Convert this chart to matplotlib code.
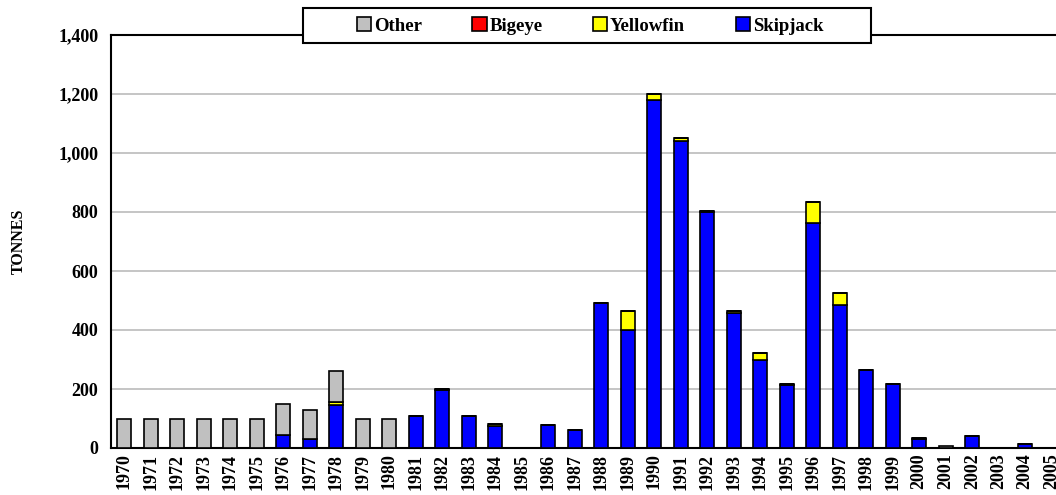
import matplotlib
matplotlib.use("Agg")
from matplotlib import pyplot as plt
from matplotlib.ticker import FuncFormatter
from matplotlib.patches import Rectangle
import numpy as np

plt.rcParams['font.family'] = ['Liberation Serif', 'DejaVu Serif']
plt.rcParams['font.weight'] = 'bold'

years = [str(y) for y in range(1970, 2006)]

skipjack = [0, 0, 0, 0, 0, 0, 45, 30, 145, 0, 0, 107, 195, 107, 75, 0, 77, 62, 490,
            400, 1178, 1040, 800, 458, 297, 213, 763, 485, 265, 218, 30, 0, 40, 0, 15, 0]
yellowfin = [0, 0, 0, 0, 0, 0, 0, 0, 12, 0, 0, 0, 6, 0, 6, 0, 0, 0, 0,
             65, 22, 12, 5, 6, 25, 5, 72, 42, 0, 0, 5, 0, 0, 0, 0, 0]
bigeye = [0] * 36
other = [100, 100, 100, 100, 100, 100, 105, 98, 103, 100, 100, 0, 0, 0, 0, 0, 0, 0, 0,
         0, 0, 0, 0, 0, 0, 0, 0, 0, 0, 0, 0, 8, 0, 0, 0, 0]

fig = plt.figure(figsize=(10.56, 4.95), dpi=100)
ax = fig.add_axes([111 / 1056, 1 - 448 / 495, 954 / 1056, 413 / 495])

x = np.arange(len(years))
w = 0.53
kw = dict(width=w, edgecolor='black', linewidth=1.2, zorder=3)
b1 = ax.bar(x, skipjack, color='#0000ff', label='Skipjack', **kw)
bottom = np.array(skipjack)
b2 = ax.bar(x, yellowfin, bottom=bottom, color='#ffff00', label='Yellowfin', **kw)
bottom = bottom + np.array(yellowfin)
b3 = ax.bar(x, bigeye, bottom=bottom, color='#ff0000', label='Bigeye', **kw)
bottom = bottom + np.array(bigeye)
b4 = ax.bar(x, other, bottom=bottom, color='#c0c0c0', label='Other', **kw)

ax.set_xlim(-0.5, 35.5)
ax.set_ylim(0, 1400)
ax.set_yticks(range(0, 1401, 200))
ax.yaxis.set_major_formatter(FuncFormatter(lambda v, p: f'{int(v):,}'))
ax.set_xticks(x)
ax.set_xticklabels(years, rotation=90, fontsize=13, fontweight='bold')
ax.tick_params(axis='y', labelsize=13, length=0, pad=9)
ax.tick_params(axis='x', length=0, pad=4)
ax.grid(axis='y', color='#c0c0c0', linewidth=1.3, zorder=0)
for s in ax.spines.values():
    s.set_linewidth(1.5)
ax.set_ylabel('TONNES', fontsize=11.5, fontweight='bold', labelpad=23)

# legend frame drawn separately (wider side padding than the text)
frame = Rectangle((303 / 1056, 1 - 43 / 495), 568 / 1056, 35 / 495,
                  transform=fig.transFigure, facecolor='white', edgecolor='black',
                  linewidth=1.5, zorder=9)
fig.add_artist(frame)
leg = fig.legend([b4, b3, b2, b1], ['Other', 'Bigeye', 'Yellowfin', 'Skipjack'],
                 loc='center', bbox_to_anchor=(590 / 1056, 1 - 26 / 495), ncol=4,
                 frameon=False, fontsize=13.5,
                 handlelength=0.75, handleheight=0.75, handletextpad=0.15,
                 columnspacing=2.7, borderpad=0.2, borderaxespad=0)
leg.set_zorder(10)

fig.savefig('out.png', dpi=100)
plt.close(fig)
